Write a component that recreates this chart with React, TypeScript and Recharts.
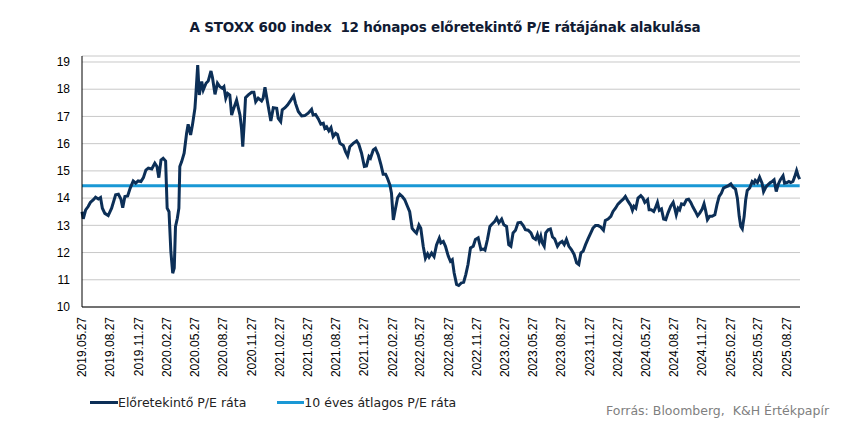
import React from 'react';
import { LineChart, Line, XAxis, YAxis, CartesianGrid } from 'recharts';

// days since 2019.05.27 for each reading
const days = [
  0, 4, 12, 20, 27, 37, 44, 53, 60, 66,
  74, 85, 96, 109, 118, 126, 132, 139, 148, 156,
  166, 174, 182, 191, 199, 207, 215, 226, 236, 243,
  249, 256, 263, 271, 276, 282, 288, 294, 299, 303,
  309, 314, 317, 323, 331, 339, 344, 352, 358, 366,
  369, 375, 380, 388, 393, 402, 409, 418, 423, 431,
  439, 447, 455, 460, 466, 472, 479, 485, 490, 501,
  512, 517, 521, 526, 530, 539, 550, 557, 563, 571,
  582, 587, 593, 601, 612, 620, 631, 636, 644, 649,
  658, 666, 677, 686, 692, 701, 712, 722, 733, 744,
  749, 757, 766, 774, 782, 787, 793, 800, 807, 814,
  822, 828, 836, 847, 854, 861, 868, 879, 890, 897,
  906, 915, 922, 930, 935, 944, 951, 960, 969, 976,
  984, 990, 998, 1003, 1009, 1014, 1023, 1030, 1038, 1046,
  1055, 1062, 1070, 1077, 1084, 1092, 1098, 1106, 1113, 1120,
  1125, 1133, 1141, 1149, 1158,
  1163, 1171, 1178, 1187, 1194, 1200, 1206, 1214, 1221, 1230,
  1237, 1244, 1251, 1259, 1268, 1275, 1284, 1293, 1300, 1306,
  1314, 1322, 1330, 1338, 1344, 1351, 1360, 1367, 1376, 1383,
  1390, 1397, 1405, 1413, 1422, 1430, 1437, 1446, 1455, 1462,
  1470, 1476, 1482, 1487, 1492, 1498, 1503, 1511, 1518, 1525,
  1532, 1541, 1548, 1556, 1563, 1570, 1578, 1586, 1595, 1603,
  1610, 1617, 1624, 1632, 1640, 1649, 1656, 1664, 1673, 1681,
  1690, 1696, 1705, 1714, 1721, 1729, 1737,
  1746, 1754, 1761, 1770, 1779, 1784, 1789, 1795, 1802, 1811,
  1818, 1824, 1833, 1838, 1845, 1853, 1858, 1865, 1871, 1878,
  1885, 1892, 1899, 1908, 1916, 1921, 1926, 1932, 1937, 1943,
  1951, 1959, 1966, 1973, 1980, 1988, 1995, 2002, 2010, 2016,
  2021, 2027, 2034, 2042, 2051, 2058, 2065, 2072, 2079, 2085,
  2094, 2103, 2110, 2118, 2124, 2130, 2135, 2140, 2146, 2151,
  2156, 2164, 2172, 2178, 2182, 2189, 2196, 2204, 2209, 2216,
  2223, 2231, 2237, 2243, 2250, 2256, 2263, 2272, 2277, 2285,
  2291, 2297, 2304, 2310, 2316, 2322, 2326,
];

// forward 12m P/E
const pe = [
  13.5, 13.24, 13.57, 13.69, 13.84, 13.94, 14.03, 13.97, 14.02, 13.63,
  13.44, 13.36, 13.63, 14.12, 14.14, 13.97, 13.65, 14.06, 14.08, 14.36,
  14.63, 14.55, 14.63, 14.61, 14.75, 15.03, 15.1, 15.07, 15.28, 15.16,
  14.75, 15.4, 15.46, 15.36, 13.63, 13.5, 12.04, 11.24, 11.43, 12.95,
  13.26, 13.63, 15.16, 15.34, 15.65, 16.38, 16.71, 16.32, 16.69, 17.3,
  17.79, 18.89, 17.79, 18.28, 17.97, 18.22, 18.3, 18.67, 18.42, 17.81,
  18.22, 18.09, 18.03, 18.09, 17.67, 17.85, 17.79, 17.05, 17.24, 17.6,
  17.05, 16.56, 15.89, 16.81, 17.69, 17.79, 17.89, 17.89, 17.54, 17.67,
  17.57, 17.67, 18.07, 17.54, 16.83, 17.32, 17.3, 16.93, 16.81, 17.24,
  17.32, 17.42, 17.6, 17.76, 17.48, 17.18, 17.02, 17.03, 17.12, 17.26,
  17.05, 17.07, 16.91, 16.72, 16.75, 16.56, 16.62, 16.47, 16.59, 16.26,
  16.38, 16.34, 16.01, 15.93, 15.71, 15.55, 15.89, 16.01, 16.1, 15.98,
  15.65, 15.16, 15.18, 15.53, 15.47, 15.77, 15.83, 15.59, 15.22, 14.88,
  14.88, 14.73, 14.48, 14.18, 13.2, 13.5, 14.02, 14.14, 14.06, 13.94,
  13.69, 13.5, 12.89, 12.79, 12.71, 13.01, 12.89, 12.22, 11.79, 11.95,
  11.83, 11.98, 11.85, 12.28, 12.53,
  12.35, 12.41, 12.23, 11.87, 11.68, 11.74, 11.26, 10.83, 10.79, 10.89,
  10.91, 11.2, 11.56, 12.17, 12.23, 12.48, 12.54, 12.11, 12.13, 12.09,
  12.48, 12.96, 13.06, 13.15, 13.27, 13.09, 13.23, 13.02, 12.96, 12.29,
  12.23, 12.72, 12.82, 13.09, 13.11, 12.99, 12.84, 12.82, 12.72, 12.54,
  12.48, 12.66, 12.41, 12.6, 12.35, 12.23, 12.72, 12.84, 12.87, 12.57,
  12.5, 12.23, 12.35, 12.41, 12.29, 12.48, 12.23, 12.11, 11.93, 11.62,
  11.56, 11.99, 12.05, 12.29, 12.5, 12.72, 12.9, 12.99, 12.99, 12.94,
  12.82, 13.18, 13.23, 13.33, 13.51, 13.63, 13.78,
  13.88, 13.96, 14.06, 13.88, 13.72, 13.55, 13.7, 13.63, 14, 14.09,
  14, 13.84, 13.94, 13.57, 13.57, 13.51, 13.63, 13.84, 13.55, 13.6,
  13.23, 13.21, 13.45, 13.7, 13.84, 13.63, 13.39, 13.63, 13.57, 13.79,
  13.76, 13.94, 13.96, 13.84, 13.67, 13.51, 13.35, 13.45, 13.6, 13.79,
  13.55, 13.21, 13.33, 13.33, 13.39, 13.76, 14.06, 14.18, 14.37, 14.4,
  14.45, 14.52, 14.4, 14.33, 14, 13.33, 12.96, 12.87, 13.33, 13.94,
  14.28, 14.37, 14.61, 14.55, 14.65, 14.57, 14.77, 14.55, 14.24, 14.4,
  14.49, 14.57, 14.61, 14.67, 14.24, 14.49, 14.67, 14.82, 14.55, 14.57,
  14.61, 14.57, 14.61, 14.79, 15.01, 14.79, 14.7,
];

const avgPe = 14.45; // 10 éves átlag

const tickLabels = [
  '2019.05.27', '2019.08.27', '2019.11.27',
  '2020.02.27', '2020.05.27', '2020.08.27', '2020.11.27',
  '2021.02.27', '2021.05.27', '2021.08.27', '2021.11.27',
  '2022.02.27', '2022.05.27', '2022.08.27', '2022.11.27',
  '2023.02.27', '2023.05.27', '2023.08.27', '2023.11.27',
  '2024.02.27', '2024.05.27', '2024.08.27', '2024.11.27',
  '2025.02.27', '2025.05.27', '2025.08.27',
];

const yTicks = [10, 11, 12, 13, 14, 15, 16, 17, 18, 19];

const DAY = 86400000;
const toDay = (s: string) => {
  const [y, m, d] = s.split('.').map(Number);
  return Math.round((Date.UTC(y, m - 1, d) - Date.UTC(2019, 4, 27)) / DAY);
};
const tickDays = tickLabels.map(toDay);
const labelByDay: Record<number, string> = {};
tickDays.forEach((d, i) => (labelByDay[d] = tickLabels[i]));

const data = days.map((d, i) => ({ day: d, pe: pe[i], avg: avgPe }));

const NAVY = '#0c2f57';
const BLUE = '#1a98d5';
const FONT = '"Liberation Sans", Arial, sans-serif';
const LEGEND_FONT = '"DejaVu Sans", Verdana, sans-serif';

const XTick = ({ x, y, payload }: any) => (
  <text
    transform={`translate(${x + 4},${y + 2}) rotate(-90)`}
    textAnchor="end"
    fontSize={12}
    fontFamily={FONT}
    fill="#000"
  >
    {labelByDay[payload.value]}
  </text>
);

export default function App() {
  return (
    <div style={{ position: 'absolute', left: 0, top: 0, width: 850, height: 422, background: '#fff' }}>
      <div
        style={{
          position: 'absolute', top: 19, left: 0, width: 890, textAlign: 'center',
          fontFamily: LEGEND_FONT, fontWeight: 'bold', fontSize: 13.5, letterSpacing: -0.2, color: '#111b33',
        }}
      >
        A STOXX 600 index&nbsp; 12 hónapos előretekintő P/E rátájának alakulása
      </div>
      <LineChart width={850} height={422} data={data} margin={{ top: 56, right: 50, bottom: 45, left: 0 }}>
        <CartesianGrid horizontal vertical={false} stroke="#c8c8c8" />
        <XAxis
          type="number"
          dataKey="day"
          domain={[0, 2327]}
          ticks={tickDays}
          interval={0}
          height={70}
          tick={<XTick />}
          tickLine={false}
          tickSize={6}
          axisLine={{ stroke: '#000', strokeWidth: 1 }}
        />
        <YAxis
          type="number"
          domain={[10, 19.22]}
          ticks={yTicks}
          width={82}
          tickLine={false}
          tickMargin={6}
          allowDataOverflow
          axisLine={{ stroke: '#000', strokeWidth: 1 }}
          tick={{ fontSize: 12, fontFamily: FONT, fill: '#000' }}
        />
        <Line type="linear" dataKey="avg" stroke={BLUE} strokeWidth={3} dot={false} isAnimationActive={false} />
        <Line type="linear" dataKey="pe" stroke={NAVY} strokeWidth={3} dot={false} isAnimationActive={false} />
      </LineChart>
      <div style={{ position: 'absolute', top: 395, left: 90, display: 'flex', alignItems: 'center', fontFamily: LEGEND_FONT, fontSize: 12.5, color: '#222' }}>
        <span style={{ display: 'inline-block', width: 28, height: 3, background: NAVY }} />
        <span style={{ marginRight: 31 }}>Előretekintő P/E ráta</span>
        <span style={{ display: 'inline-block', width: 27, height: 3, background: BLUE }} />
        <span>10 éves átlagos P/E ráta</span>
      </div>
      <div style={{ position: 'absolute', top: 403, left: 606, fontFamily: LEGEND_FONT, fontSize: 12.5, color: '#808080' }}>
        Forrás: Bloomberg,&nbsp; K&amp;H Értékpapír
      </div>
    </div>
  );
}
